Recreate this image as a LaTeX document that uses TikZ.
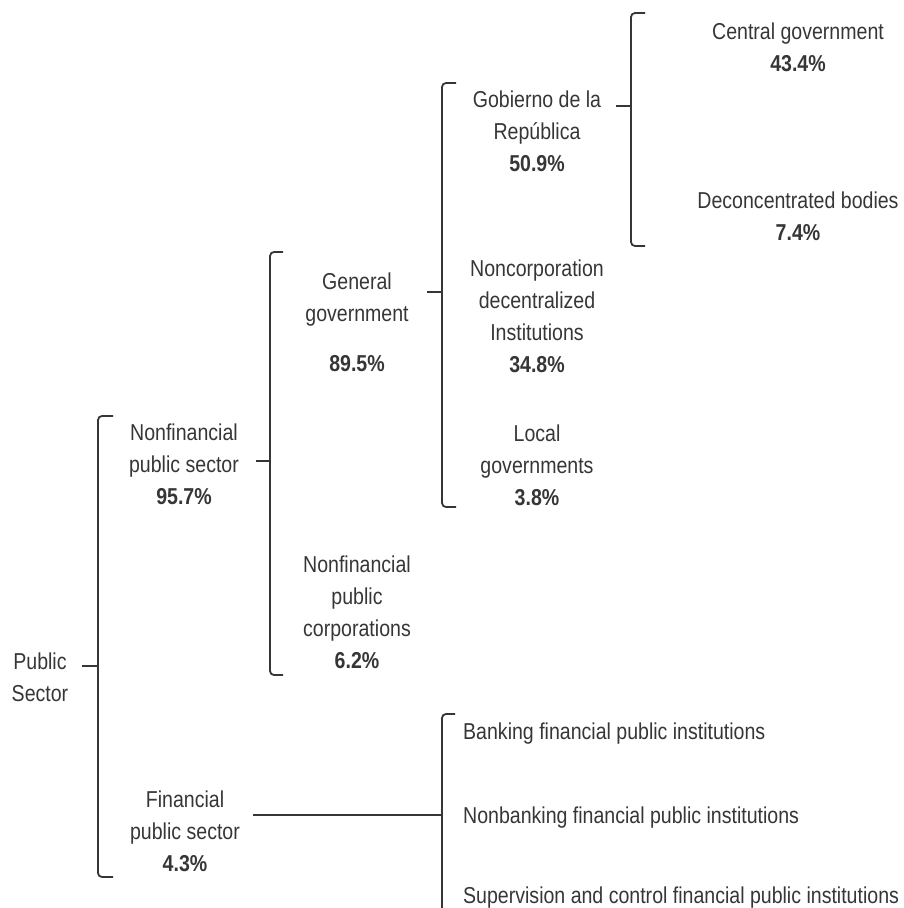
\documentclass[tikz,border=0pt]{standalone}
\usepackage{fontspec}
\setmainfont{Liberation Sans}[FakeStretch=0.85]
\usepackage{tikz}
\usetikzlibrary{positioning,calc}
\definecolor{ink}{HTML}{363636}

\begin{document}
\begin{tikzpicture}[x=1pt, y=-1pt]
    \tikzstyle{label} = [align=center, text=ink, font=\fontsize{23}{32}\selectfont, inner sep=0pt]
    \tikzstyle{item} = [anchor=west, text=ink, font=\fontsize{23}{32}\selectfont, inner sep=0pt]
    \tikzstyle{brk} = [draw=ink, line width=1.8pt, rounded corners=4pt]

    \useasboundingbox (0,0) rectangle (903,908);

    % labels
    \node [label] (central) at (798,47) {Central government\\\textbf{43.4\%}};
    \node [label] (deconc) at (798,216) {Deconcentrated bodies\\\textbf{7.4\%}};
    \node [label] (gobierno) at (537,131) {Gobierno de la\\República\\\textbf{50.9\%}};
    \node [label] (noncorp) at (537,316) {Noncorporation\\decentralized\\Institutions\\\textbf{34.8\%}};
    \node [label] (local) at (537,465) {Local\\governments\\\textbf{3.8\%}};
    \node [label] (general) at (357,322) {General\\government\\[18pt]\textbf{89.5\%}};
    \node [label] (nfps) at (184,464) {Nonfinancial\\public sector\\\textbf{95.7\%}};
    \node [label] (nfpc) at (357,612) {Nonfinancial\\public\\corporations\\\textbf{6.2\%}};
    \node [label] (public) at (40,677) {Public\\Sector};
    \node [label] (fps) at (185,831) {Financial\\public sector\\\textbf{4.3\%}};

    \node [item] (banking) at (463,734) {Banking financial public institutions};
    \node [item, below=84pt of banking.west, anchor=west] (nonbanking) {Nonbanking financial public institutions};
    \node [item, below=80pt of nonbanking.west, anchor=west] (supervision) {Supervision and control financial public institutions};

    % brackets
    \coordinate (gobT) at (631,13);
    \coordinate (gobB) at (631,246);
    \coordinate (gobK) at (616,106);
    \draw [brk] ($(gobT)+(14,0)$) -- (gobT) -- (gobB) -- ($(gobB)+(14,0)$);
    \draw [brk] (gobK) -- (gobK -| gobT);

    \coordinate (genT) at (442,83);
    \coordinate (genB) at (442,507);
    \coordinate (genK) at (427,292);
    \draw [brk] ($(genT)+(14,0)$) -- (genT) -- (genB) -- ($(genB)+(14,0)$);
    \draw [brk] (genK) -- (genK -| genT);

    \coordinate (nfT) at (270,252);
    \coordinate (nfB) at (270,675);
    \coordinate (nfK) at (256,461);
    \draw [brk] ($(nfT)+(13,0)$) -- (nfT) -- (nfB) -- ($(nfB)+(13,0)$);
    \draw [brk] (nfK) -- (nfK -| nfT);

    \coordinate (psT) at (98,416);
    \coordinate (psB) at (98,877);
    \coordinate (psK) at (82,666);
    \draw [brk] ($(psT)+(15,0)$) -- (psT) -- (psB) -- ($(psB)+(15,0)$);
    \draw [brk] (psK) -- (psK -| psT);

    \coordinate (fiT) at (442,714);
    \coordinate (fiB) at (442,912);
    \coordinate (fiK) at (253,815);
    \draw [brk] ($(fiT)+(13,0)$) -- (fiT) -- (fiB);
    \draw [brk] (fiK) -- (fiK -| fiT);
\end{tikzpicture}
\end{document}
